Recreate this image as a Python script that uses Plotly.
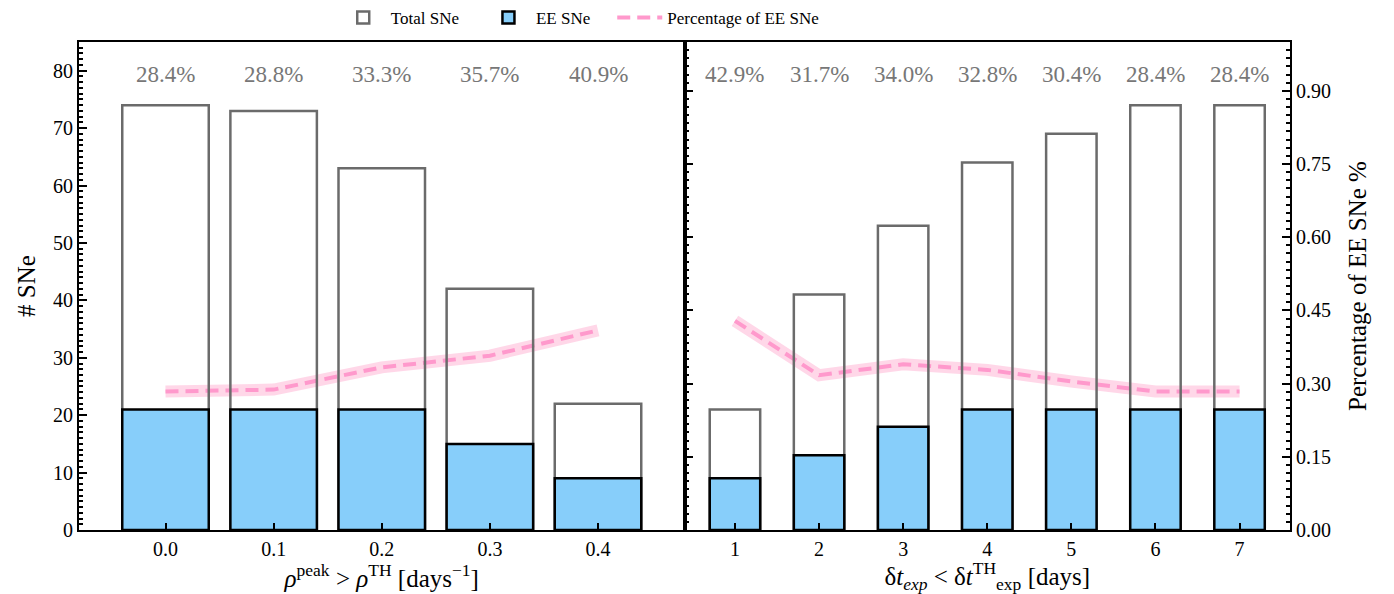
import plotly.graph_objects as go

# Left panel: threshold on peak rate
rho_th = [0.0, 0.1, 0.2, 0.3, 0.4]
rho_tick_labels = ["0.0", "0.1", "0.2", "0.3", "0.4"]
rho_total = [74, 73, 63, 42, 22]
rho_ee = [21, 21, 21, 15, 9]

# Right panel: threshold on explosion-time uncertainty
dt_th = [1, 2, 3, 4, 5, 6, 7]
dt_tick_labels = ["1", "2", "3", "4", "5", "6", "7"]
dt_total = [21, 41, 53, 64, 69, 74, 74]
dt_ee = [9, 13, 18, 21, 21, 21, 21]

rho_frac = [e / t for e, t in zip(rho_ee, rho_total)]
dt_frac = [e / t for e, t in zip(dt_ee, dt_total)]

FONT = "Liberation Serif"
GRAY_EDGE = "#6b6b6b"
EE_FILL = "#87cefa"
PINK = "#ff99cc"
GLOW = "rgba(255,182,213,0.55)"
PAD = "\u2002\u2002"  # extra spacing after legend labels

COUNT_RANGE = [0, 85]
PCT_RANGE = [0, 1]

fig = go.Figure()


def add_panel(x, total, ee, frac, bar_width, xa, ya_pct, ya_cnt, show_legend):
    # percentage line (drawn underneath the bars)
    fig.add_trace(go.Scatter(
        x=x, y=frac, mode="lines", xaxis=xa, yaxis=ya_pct,
        line=dict(color=GLOW, width=12), hoverinfo="skip", showlegend=False))
    fig.add_trace(go.Scatter(
        x=x, y=frac, mode="lines", xaxis=xa, yaxis=ya_pct,
        line=dict(color=PINK, width=4, dash="13px,7px"),
        name="Percentage of EE SNe", showlegend=show_legend, legendrank=3))
    fig.add_trace(go.Bar(
        x=x, y=total, width=bar_width, xaxis=xa, yaxis=ya_cnt,
        marker=dict(color="rgba(255,255,255,0)", line=dict(color=GRAY_EDGE, width=2.5)),
        name="Total SNe" + PAD, showlegend=show_legend, legendrank=1))
    fig.add_trace(go.Bar(
        x=x, y=ee, width=bar_width, xaxis=xa, yaxis=ya_cnt,
        marker=dict(color=EE_FILL, line=dict(color="black", width=2.5)),
        name="EE SNe" + PAD, showlegend=show_legend, legendrank=2))


add_panel(rho_th, rho_total, rho_ee, rho_frac, 0.08, "x", "y", "y3", True)
add_panel(dt_th, dt_total, dt_ee, dt_frac, 0.6, "x2", "y2", "y4", False)

# transparent copies that keep the minor-tick axes attached to data
fig.add_trace(go.Scatter(x=rho_th, y=rho_total, mode="lines", xaxis="x", yaxis="y5",
                         line=dict(width=0), opacity=0, hoverinfo="skip", showlegend=False))
fig.add_trace(go.Scatter(x=dt_th, y=dt_frac, mode="lines", xaxis="x2", yaxis="y6",
                         line=dict(width=0), opacity=0, hoverinfo="skip", showlegend=False))

# percentage labels above each bar
annotations = []
for x, e, t in zip(rho_th, rho_ee, rho_total):
    annotations.append(dict(x=x, y=79.3, xref="x", yref="y3", text=f"{e / t * 100:.1f}%",
                            showarrow=False, font=dict(family=FONT, size=23, color="#777777")))
for x, e, t in zip(dt_th, dt_ee, dt_total):
    annotations.append(dict(x=x, y=79.3, xref="x2", yref="y4", text=f"{e / t * 100:.1f}%",
                            showarrow=False, font=dict(family=FONT, size=23, color="#777777")))

tickfont = dict(family=FONT, size=20, color="black")
titlefont = dict(family=FONT, size=25, color="black")

xcommon = dict(ticks="inside", ticklen=7, tickwidth=1.5, tickcolor="black",
               showline=True, linewidth=2, linecolor="black", mirror=True,
               showgrid=False, zeroline=False, tickfont=tickfont, title_font=titlefont)

# tick-only axes that carry the minor ticks
minor_axis = dict(ticks="inside", ticklen=4, tickwidth=1.5, tickcolor="black",
                  showticklabels=False, showline=False, showgrid=False, zeroline=False)

fig.update_layout(
    width=1394, height=594,
    margin=dict(l=79, r=104, t=42, b=64, autoexpand=False),
    paper_bgcolor="white", plot_bgcolor="white",
    barmode="overlay",
    font=dict(family=FONT, color="black"),
    annotations=annotations,
    legend=dict(orientation="h", x=0.212, xanchor="left", y=1.0, yref="container",
                yanchor="top", font=dict(family=FONT, size=17), itemwidth=45,
                traceorder="normal", bgcolor="rgba(0,0,0,0)"),
    xaxis=dict(domain=[0, 0.5], anchor="y", range=[-0.08, 0.48],
               tickvals=rho_th, ticktext=rho_tick_labels,
               title=dict(text="<i>ρ</i><sup>peak</sup> &gt; <i>ρ</i><sup>TH</sup> [days<sup>−1</sup>]",
                          standoff=2),
               **xcommon),
    xaxis2=dict(domain=[0.5, 1], anchor="y2", range=[0.4, 7.6],
                tickvals=dt_th, ticktext=dt_tick_labels,
                title=dict(text="δ<i>t<sub>exp</sub></i> &lt; δ<i>t</i><sup>TH</sup><sub>exp</sub> [days]",
                           standoff=2),
                **xcommon),
    # percentage axes (base layers)
    yaxis=dict(anchor="x", range=PCT_RANGE, visible=False, showgrid=False),
    yaxis2=dict(anchor="x2", range=PCT_RANGE, side="right", tick0=0, dtick=0.15, tickformat=".2f",
                ticks="inside", ticklen=8, tickwidth=1.5, tickcolor="black",
                showline=True, linewidth=2, linecolor="black", mirror="ticks",
                showgrid=False, zeroline=False, tickfont=tickfont,
                title=dict(text="Percentage of EE SNe %", font=titlefont, standoff=18)),
    # count axes (overlaid so bar edges sit above the percentage line)
    yaxis3=dict(anchor="x", overlaying="y", side="left", range=COUNT_RANGE, tick0=0, dtick=10,
                ticks="inside", ticklen=8, tickwidth=1.5, tickcolor="black",
                showline=True, linewidth=2, linecolor="black", mirror=True,
                showgrid=False, zeroline=False, tickfont=tickfont,
                title=dict(text="# SNe", font=titlefont, standoff=10)),
    yaxis4=dict(anchor="x2", overlaying="y2", matches="y3", range=COUNT_RANGE,
                visible=False, showgrid=False),
    # minor ticks: counts on the left spine, percentages on both spines of the right panel
    yaxis5=dict(anchor="x", overlaying="y", side="left", range=COUNT_RANGE,
                tick0=0, dtick=1, **minor_axis),
    yaxis6=dict(anchor="x2", overlaying="y2", side="right", range=PCT_RANGE,
                tick0=0, dtick=0.15 / 9, mirror="ticks", **minor_axis),
)

fig.write_html("out.html")
